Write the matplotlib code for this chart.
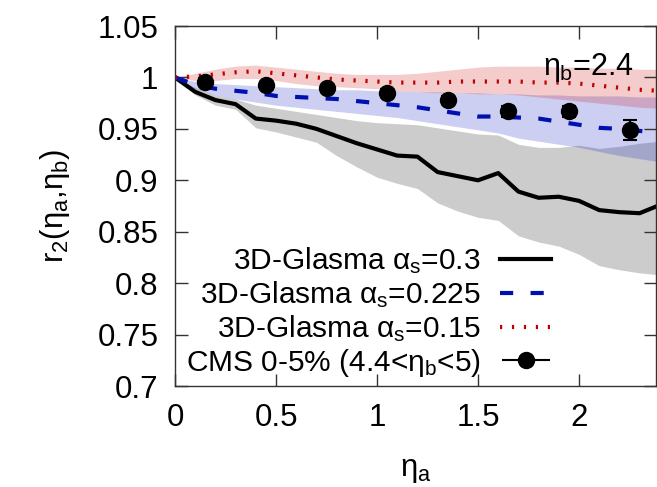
import numpy as np
import matplotlib
matplotlib.use("Agg")
import matplotlib.pyplot as plt
from matplotlib.legend_handler import HandlerErrorbar
from matplotlib.container import ErrorbarContainer

plt.rcParams["font.family"] = ["Liberation Sans", "DejaVu Sans"]
plt.rcParams["mathtext.fontset"] = "custom"
plt.rcParams["mathtext.rm"] = "Liberation Sans"
plt.rcParams["mathtext.it"] = "Liberation Sans"
plt.rcParams["mathtext.bf"] = "Liberation Sans:bold"
plt.rcParams["lines.scale_dashes"] = False

# simulation grid in eta_a
eta = [0.0, 0.1, 0.2, 0.3, 0.4, 0.5, 0.6, 0.7, 0.8, 0.9, 1.0, 1.1, 1.2,
       1.3, 1.4, 1.5, 1.6, 1.7, 1.8, 1.9, 2.0, 2.1, 2.2, 2.3, 2.4]

# alpha_s = 0.3
r_03 = [1.000, 0.986, 0.978, 0.974, 0.960, 0.958, 0.955, 0.950, 0.943, 0.936, 0.930, 0.924, 0.923,
        0.908, 0.904, 0.900, 0.907, 0.889, 0.883, 0.884, 0.880, 0.871, 0.869, 0.868, 0.876]
r_03_hi = [1.000, 0.990, 0.983, 0.979, 0.973, 0.970, 0.967, 0.964, 0.961, 0.958, 0.956, 0.955, 0.954,
           0.951, 0.948, 0.945, 0.944, 0.935, 0.932, 0.932, 0.934, 0.931, 0.933, 0.936, 0.938]
r_03_lo = [1.000, 0.983, 0.973, 0.969, 0.951, 0.947, 0.942, 0.937, 0.924, 0.913, 0.903, 0.897, 0.892,
           0.878, 0.870, 0.864, 0.861, 0.846, 0.840, 0.836, 0.828, 0.817, 0.813, 0.810, 0.808]

# alpha_s = 0.225
r_0225 = [1.000, 0.993, 0.989, 0.987, 0.985, 0.982, 0.981, 0.980, 0.979, 0.977, 0.975, 0.973, 0.971,
          0.968, 0.965, 0.962, 0.962, 0.961, 0.960, 0.957, 0.954, 0.951, 0.950, 0.948, 0.946]
r_0225_hi = [1.000, 0.996, 0.994, 0.993, 0.992, 0.991, 0.990, 0.989, 0.988, 0.988, 0.987, 0.987, 0.986,
             0.986, 0.985, 0.985, 0.984, 0.984, 0.983, 0.983, 0.982, 0.982, 0.982, 0.981, 0.981]
r_0225_lo = [1.000, 0.989, 0.983, 0.979, 0.976, 0.973, 0.971, 0.969, 0.967, 0.965, 0.963, 0.961, 0.958,
             0.955, 0.952, 0.949, 0.946, 0.941, 0.938, 0.935, 0.932, 0.928, 0.924, 0.921, 0.918]

# alpha_s = 0.15
r_015 = [1.000, 1.001, 1.003, 1.005, 1.006, 1.004, 1.002, 1.000, 0.998, 0.997, 0.996, 0.995, 0.995,
         0.995, 0.996, 0.996, 0.996, 0.996, 0.995, 0.995, 0.994, 0.992, 0.990, 0.988, 0.987]
r_015_hi = [1.000, 1.004, 1.008, 1.011, 1.012, 1.010, 1.008, 1.006, 1.004, 1.003, 1.003, 1.003, 1.004,
            1.006, 1.008, 1.010, 1.011, 1.011, 1.011, 1.010, 1.010, 1.009, 1.009, 1.008, 1.008]
r_015_lo = [1.000, 0.997, 0.997, 0.999, 0.999, 0.997, 0.994, 0.992, 0.991, 0.990, 0.989, 0.987, 0.986,
            0.985, 0.985, 0.984, 0.984, 0.983, 0.981, 0.979, 0.977, 0.975, 0.973, 0.971, 0.970]

# CMS 0-5%
cms_eta = [0.15, 0.45, 0.75, 1.05, 1.35, 1.65, 1.95, 2.25]
cms_r = [0.996, 0.993, 0.990, 0.985, 0.978, 0.967, 0.967, 0.949]
cms_err = [0.003, 0.003, 0.003, 0.004, 0.004, 0.005, 0.005, 0.010]

fig = plt.figure(figsize=(6.57, 4.87), dpi=100)
ax = fig.add_axes([175 / 657, 1 - 386 / 487, 481 / 657, 360 / 487])

ax.fill_between(eta, r_03_lo, r_03_hi, color="k", alpha=0.2, lw=0)
ax.fill_between(eta, r_0225_lo, r_0225_hi, color="#0010c0", alpha=0.2, lw=0)
ax.fill_between(eta, r_015_lo, r_015_hi, color="#c80000", alpha=0.2, lw=0)

ax.plot(eta, r_03, color="k", lw=3, label=r"3D-Glasma $\alpha_s$=0.3")
ax.plot(eta, r_0225, color="#0010b0", lw=3, dashes=(9.5, 12.5), dash_capstyle="butt",
        label=r"3D-Glasma $\alpha_s$=0.225")
ax.plot(eta, r_015, color="#c00000", lw=3, dashes=(1.6, 7), dash_capstyle="butt",
        label=r"3D-Glasma $\alpha_s$=0.15")

ax.errorbar(cms_eta, cms_r, yerr=cms_err, fmt="o", color="k", ms=11.5, lw=1.5,
            capsize=5, capthick=1.5, zorder=5)
proxy = ax.errorbar([], [], xerr=[], fmt="o", color="k", ms=11.5, lw=1.5,
                    capsize=5, capthick=1.5, label=r"CMS 0-5% (4.4<$\eta_b$<5)")

ax.text(2.045, 1.0095, r"$\eta_b$=2.4", fontsize=22, ha="center", va="center")

ax.set_xlim(0, 2.381)
ax.set_ylim(0.7, 1.05)
ax.set_xticks([0, 0.5, 1, 1.5, 2])
ax.set_xticklabels(["0", "0.5", "1", "1.5", "2"])
ax.set_yticks([0.7, 0.75, 0.8, 0.85, 0.9, 0.95, 1.0, 1.05])
ax.set_yticklabels(["0.7", "0.75", "0.8", "0.85", "0.9", "0.95", "1", "1.05"])
ax.tick_params(direction="in", top=True, right=True, length=9, width=1,
               labelsize=22.5, pad=12, color="#333333")
for s in ax.spines.values():
    s.set_linewidth(1)
    s.set_color("#333333")

ax.set_xlabel(r"$\eta_a$", fontsize=22.5, labelpad=16)
ax.set_ylabel(r"r$_2$($\eta_a$,$\eta_b$)", fontsize=22.5, labelpad=18)

ax.legend(loc="lower right", bbox_to_anchor=(0.782, 0.02), frameon=False,
          markerfirst=False, fontsize=21.5, handlelength=1.7, handletextpad=0.65,
          labelspacing=0.1, borderpad=0, borderaxespad=0,
          handler_map={ErrorbarContainer: HandlerErrorbar(xerr_size=0.8)})

fig.savefig("out.png", dpi=100)
